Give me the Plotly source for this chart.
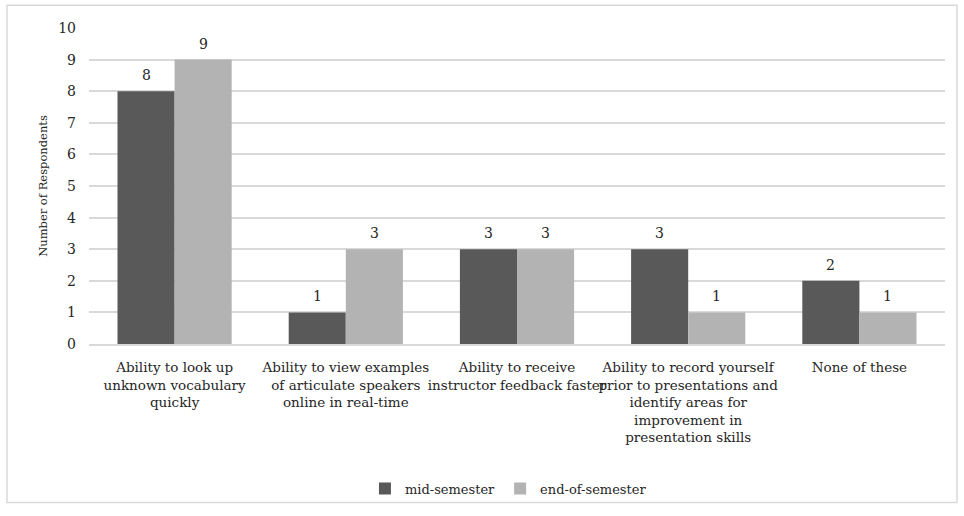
import plotly.graph_objects as go

categories = [
    "Ability to look up<br>unknown vocabulary<br>quickly",
    "Ability to view examples<br>of articulate speakers<br>online in real-time",
    "Ability to receive<br>instructor feedback faster",
    "Ability to record yourself<br>prior to presentations and<br>identify areas for<br>improvement in<br>presentation skills",
    "None of these",
]
mid_semester = [8, 1, 3, 3, 2]
end_of_semester = [9, 3, 3, 1, 1]
y_ticks = list(range(0, 11))

FONT = "DejaVu Serif"
TEXT = "#262626"

fig = go.Figure()
fig.add_trace(go.Bar(
    name="mid-semester", x=categories, y=mid_semester,
    marker=dict(color="#595959", line=dict(width=0)),
    offsetgroup="mid",
))
fig.add_trace(go.Bar(
    name="end-of-semester", x=categories, y=end_of_semester,
    marker=dict(color="#b3b3b3", line=dict(width=0)),
    offsetgroup="end",
))

# value labels above each bar, shifted to the left/right half of each group
group_shift = 28.5
annotations = []
for i, cat in enumerate(categories):
    for vals, dx in ((mid_semester, -group_shift), (end_of_semester, group_shift)):
        annotations.append(dict(
            x=cat, y=vals[i], xref="x", yref="y", text=str(vals[i]),
            showarrow=False, xshift=dx, yshift=16, yanchor="middle",
            font=dict(family=FONT, size=14, color=TEXT),
        ))

fig.update_layout(
    width=964, height=516,
    margin=dict(l=89, r=19, t=28, b=169),
    paper_bgcolor="white", plot_bgcolor="white",
    font=dict(family=FONT, size=13.5, color=TEXT),
    barmode="group", bargap=0.333, bargroupgap=0,
    showlegend=True,
    legend=dict(orientation="h", x=0.49, xanchor="center", y=-0.41, yanchor="top",
                bgcolor="rgba(0,0,0,0)",
                font=dict(family=FONT, size=13, color=TEXT),
                itemwidth=30, traceorder="normal"),
    xaxis=dict(showgrid=False, showline=True, linecolor="#d9d9d9", linewidth=1.5,
               ticks="", tickangle=0, ticklabelstandoff=10,
               tickfont=dict(family=FONT, size=13.5, color=TEXT)),
    yaxis=dict(range=[0, 10], tickvals=y_ticks, showgrid=True, gridcolor="#d9d9d9",
               gridwidth=1.5, zeroline=False, showline=False, ticks="",
               ticklabelstandoff=12,
               tickfont=dict(family=FONT, size=14, color=TEXT),
               title=dict(text="Number of Respondents", standoff=8,
                          font=dict(family=FONT, size=11.5, color=TEXT))),
    annotations=annotations,
    shapes=[dict(type="rect", xref="paper", yref="paper",
                 x0=-0.0958, x1=1.014, y0=-0.5016, y1=1.072,
                 line=dict(color="#d9d9d9", width=1.5), fillcolor="rgba(0,0,0,0)",
                 layer="below")],
)

fig.write_html("out.html")
